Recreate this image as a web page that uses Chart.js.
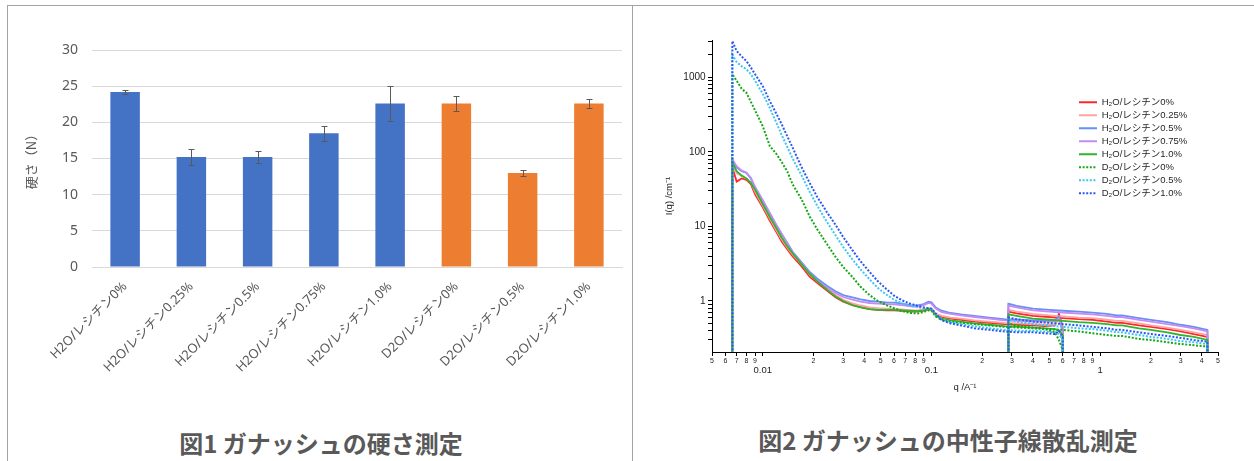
<!DOCTYPE html>
<html>

<head>
    <meta charset="utf-8">
    <title>ガナッシュの硬さ測定・中性子線散乱測定</title>
    <script src="https://cdn.jsdelivr.net/npm/chart.js"></script>
    <style>
        body {
            margin: 0;
            width: 1254px;
            height: 461px;
            overflow: hidden;
            position: relative;
            background: #ffffff;
            font-family: "Noto Sans CJK JP", sans-serif;
        }

        .frame {
            position: absolute;
            left: 7px;
            top: 5px;
            width: 1260px;
            height: 470px;
            border-top: 1px solid #a3a3a3;
            border-left: 1px solid #a3a3a3;
        }

        .divider {
            position: absolute;
            left: 632px;
            top: 5px;
            width: 1px;
            height: 470px;
            background: #a3a3a3;
        }

        #hardBox {
            position: absolute;
            left: 8px;
            top: 6px;
        }

        #sansBox {
            position: absolute;
            left: 633px;
            top: 6px;
        }

        .caption {
            position: absolute;
            transform: translateX(-50%);
            font-size: 24px;
            font-weight: bold;
            line-height: 34px;
            color: #595959;
            white-space: nowrap;
        }
    </style>
</head>

<body>
    <div class="frame"></div>
    <div class="divider"></div>

    <div id="hardBox"><canvas id="hardChart" width="623" height="411"></canvas></div>
    <div class="caption" style="left: 321px; top: 426px;">図1 ガナッシュの硬さ測定</div>

    <div id="sansBox"><canvas id="sansChart" width="621" height="398"></canvas></div>
    <div class="caption" style="left: 948px; top: 423px;">図2 ガナッシュの中性子線散乱測定</div>

    <script>
        // ---- 図1: hardness (N) ----
        const hardLabels = ['H2O/レシチン0%', 'H2O/レシチン0.25%', 'H2O/レシチン0.5%', 'H2O/レシチン0.75%',
            'H2O/レシチン1.0%', 'D2O/レシチン0%', 'D2O/レシチン0.5%', 'D2O/レシチン1.0%'];
        const hardValues = [24.2, 15.2, 15.2, 18.5, 22.6, 22.6, 13.0, 22.6];
        const hardErrors = [0.25, 1.1, 0.87, 1.04, 2.4, 1.0, 0.46, 0.6];

        // ---- 図2: SANS I(q) ----
        // low-q detector segment (first and last points fall below the axis)
        const qLow = [0.0066, 0.0066, 0.007, 0.0075, 0.008, 0.0085, 0.009, 0.01, 0.011, 0.012,
            0.013, 0.014, 0.015, 0.017, 0.019, 0.021, 0.024, 0.027, 0.03, 0.034,
            0.038, 0.043, 0.048, 0.054, 0.06, 0.067, 0.075, 0.083, 0.09, 0.096,
            0.1, 0.106, 0.115, 0.13, 0.15, 0.18, 0.22, 0.27, 0.33, 0.4,
            0.47, 0.54, 0.57, 0.6, 0.6];
        // high-q detector segment
        const qHigh = [0.286, 0.286, 0.32, 0.4, 0.5, 0.6, 0.75, 0.9, 1.1, 1.25, 1.35, 1.7, 2.0, 2.5, 3.0, 3.6, 4.33, 4.33];

        const h2o0Low = [0.1, 62, 40, 44, 42, 37, 27, 18, 12, 8.5, 6.2, 4.9, 4.0, 2.9, 2.1, 1.75, 1.38, 1.12, 0.98, 0.88,
            0.83, 0.78, 0.76, 0.75, 0.75, 0.74, 0.72, 0.72, 0.74, 0.77, 0.76, 0.66, 0.61, 0.58, 0.56, 0.53, 0.51, 0.49, 0.48, 0.47,
            0.46, 0.47, 0.68, 0.45, 0.1];
        const h2o025Low = [0.1, 68, 52, 47, 44, 39, 29, 19, 12.8, 9.0, 6.6, 5.2, 4.25, 3.1, 2.25, 1.85, 1.47, 1.2, 1.04, 0.93,
            0.87, 0.82, 0.8, 0.79, 0.78, 0.77, 0.75, 0.75, 0.77, 0.8, 0.79, 0.68, 0.63, 0.6, 0.58, 0.55, 0.53, 0.51, 0.5, 0.49,
            0.48, 0.48, 0.58, 0.44, 0.1];
        const h2o05Low = [0.1, 80, 62, 55, 52, 44, 33, 22, 15, 10.5, 7.8, 6.0, 4.6, 3.3, 2.45, 2.0, 1.6, 1.35, 1.2, 1.12,
            1.05, 1.0, 0.98, 0.96, 0.95, 0.92, 0.88, 0.87, 0.91, 0.98, 0.96, 0.82, 0.74, 0.69, 0.66, 0.63, 0.6, 0.57, 0.56, 0.55,
            0.55, 0.55, 0.62, 0.4, 0.1];
        const h2o075Low = [0.1, 78, 64, 56, 53, 45, 34, 22.5, 15.2, 10.6, 7.8, 5.9, 4.5, 3.2, 2.35, 1.9, 1.52, 1.28, 1.13, 1.04,
            0.98, 0.94, 0.92, 0.91, 0.9, 0.88, 0.85, 0.84, 0.88, 0.94, 0.92, 0.79, 0.71, 0.67, 0.64, 0.61, 0.58, 0.55, 0.54, 0.53,
            0.53, 0.53, 0.58, 0.38, 0.1];
        const h2o10Low = [0.1, 73, 55, 48, 44, 38, 31, 20, 13.5, 9.6, 7.0, 5.4, 4.4, 3.1, 2.3, 1.85, 1.42, 1.15, 1.0, 0.88,
            0.82, 0.78, 0.76, 0.76, 0.76, 0.75, 0.74, 0.73, 0.75, 0.78, 0.77, 0.64, 0.58, 0.55, 0.53, 0.5, 0.48, 0.46, 0.45, 0.44,
            0.43, 0.42, 0.4, 0.35, 0.1];
        const d2o0Low = [0.1, 1100, 900, 700, 620, 470, 360, 220, 120, 95, 72, 54, 37, 23, 13.5, 9.2, 5.8, 3.9, 2.85, 2.1,
            1.55, 1.2, 1.0, 0.88, 0.8, 0.73, 0.69, 0.68, 0.71, 0.75, 0.74, 0.62, 0.56, 0.53, 0.51, 0.49, 0.47, 0.45, 0.44, 0.43,
            0.42, 0.38, 0.3, 0.22, 0.1];
        const d2o05Low = [0.1, 2000, 1600, 1400, 1280, 1100, 900, 600, 390, 250, 165, 115, 82, 48, 29, 19, 11.5, 7.6, 5.3, 3.6,
            2.65, 1.95, 1.5, 1.22, 1.04, 0.93, 0.86, 0.83, 0.8, 0.8, 0.78, 0.66, 0.57, 0.52, 0.49, 0.46, 0.43, 0.41, 0.4, 0.4,
            0.39, 0.38, 0.36, 0.3, 0.1];
        const d2o10Low = [0.1, 3050, 2250, 1900, 1650, 1350, 1100, 760, 480, 330, 230, 160, 115, 62, 38, 25, 15.5, 10.5, 7.2, 4.8,
            3.4, 2.45, 1.85, 1.45, 1.18, 1.02, 0.92, 0.86, 0.82, 0.8, 0.79, 0.68, 0.55, 0.5, 0.47, 0.43, 0.41, 0.39, 0.38, 0.38,
            0.37, 0.36, 0.4, 0.33, 0.1];

        const h2o0High = [0.1, 0.72, 0.68, 0.63, 0.61, 0.59, 0.57, 0.56, 0.53, 0.51, 0.51, 0.47, 0.45, 0.42, 0.39, 0.36, 0.33, 0.1];
        const h2o025High = [0.1, 0.76, 0.72, 0.67, 0.64, 0.62, 0.60, 0.59, 0.56, 0.54, 0.54, 0.50, 0.47, 0.44, 0.41, 0.38, 0.35, 0.1];
        const h2o05High = [0.1, 0.92, 0.86, 0.79, 0.76, 0.74, 0.72, 0.70, 0.67, 0.64, 0.64, 0.59, 0.56, 0.52, 0.48, 0.45, 0.41, 0.1];
        const h2o075High = [0.1, 0.87, 0.82, 0.75, 0.72, 0.70, 0.68, 0.66, 0.63, 0.61, 0.61, 0.56, 0.53, 0.49, 0.46, 0.43, 0.39, 0.1];
        const h2o10High = [0.1, 0.66, 0.63, 0.58, 0.56, 0.54, 0.52, 0.51, 0.49, 0.47, 0.47, 0.43, 0.41, 0.38, 0.35, 0.33, 0.30, 0.1];
        const d2o0High = [0.1, 0.50, 0.47, 0.44, 0.42, 0.41, 0.39, 0.37, 0.35, 0.34, 0.34, 0.31, 0.30, 0.28, 0.265, 0.255, 0.245, 0.1];
        const d2o05High = [0.1, 0.56, 0.53, 0.49, 0.47, 0.45, 0.43, 0.42, 0.40, 0.38, 0.38, 0.35, 0.33, 0.31, 0.29, 0.28, 0.265, 0.1];
        const d2o10High = [0.1, 0.60, 0.57, 0.53, 0.51, 0.49, 0.47, 0.45, 0.43, 0.41, 0.41, 0.38, 0.36, 0.34, 0.32, 0.30, 0.285, 0.1];

        const sansLabels = ['H₂O/レシチン0%', 'H₂O/レシチン0.25%', 'H₂O/レシチン0.5%', 'H₂O/レシチン0.75%',
            'H₂O/レシチン1.0%', 'D₂O/レシチン0%', 'D₂O/レシチン0.5%', 'D₂O/レシチン1.0%'];
        const sansLow = [h2o0Low, h2o025Low, h2o05Low, h2o075Low, h2o10Low, d2o0Low, d2o05Low, d2o10Low];
        const sansHigh = [h2o0High, h2o025High, h2o05High, h2o075High, h2o10High, d2o0High, d2o05High, d2o10High];

        // axis ticks
        const qTickValues = [0.005, 0.006, 0.007, 0.008, 0.009, 0.01, 0.02, 0.03, 0.04, 0.05, 0.06, 0.07, 0.08, 0.09,
            0.1, 0.2, 0.3, 0.4, 0.5, 0.6, 0.7, 0.8, 0.9, 1, 2, 3, 4, 5];
        const qMinorText = ['5', '6', '7', '8', '9', '', '2', '3', '4', '5', '6', '7', '8', '9',
            '', '2', '3', '4', '5', '6', '7', '8', '9', '', '2', '3', '4', '5'];
        const qMajorValues = [0.01, 0.1, 1];
        const qMajorText = ['0.01', '0.1', '1'];
        const iTickValues = [0.3, 0.4, 0.5, 0.6, 0.7, 0.8, 0.9, 1, 2, 3, 4, 5, 6, 7, 8, 9, 10, 20, 30, 40, 50, 60, 70, 80, 90,
            100, 200, 300, 400, 500, 600, 700, 800, 900, 1000, 2000, 3000];
        const iTickText = iTickValues.map(v => [1, 10, 100, 1000].includes(v) ? String(v) : '');

        // line styles, same order as sansLabels
        const sansColors = ['#ff2626', '#ffa3a3', '#6a8ef4', '#c48cf2', '#2fb52f', '#15a815', '#3cc6f4', '#2c58f2'];
        const sansDotted = [false, false, false, false, false, true, true, true];

        // ---- chart 1 ----
        const errorBars = {
            id: 'errorBars',
            afterDatasetsDraw(chart) {
                const { ctx, scales: { y } } = chart;
                const meta = chart.getDatasetMeta(0);
                ctx.save();
                ctx.strokeStyle = '#5a5a5a';
                ctx.lineWidth = 1;
                meta.data.forEach((bar, i) => {
                    const x = Math.round(bar.x) + 0.5;
                    const top = Math.round(y.getPixelForValue(hardValues[i] + hardErrors[i])) + 0.5;
                    const bottom = Math.round(y.getPixelForValue(hardValues[i] - hardErrors[i])) + 0.5;
                    ctx.beginPath();
                    ctx.moveTo(x, top);
                    ctx.lineTo(x, bottom);
                    ctx.moveTo(x - 3, top);
                    ctx.lineTo(x + 3, top);
                    ctx.moveTo(x - 3, bottom);
                    ctx.lineTo(x + 3, bottom);
                    ctx.stroke();
                });
                ctx.restore();
            }
        };

        new Chart(document.getElementById('hardChart'), {
            type: 'bar',
            data: {
                labels: hardLabels,
                datasets: [{
                    data: hardValues,
                    backgroundColor: hardLabels.map(l => l.startsWith('H2O') ? '#4472c4' : '#ed7d31'),
                    barPercentage: 0.445,
                    categoryPercentage: 1
                }]
            },
            options: {
                responsive: false,
                animation: false,
                layout: { padding: { top: 44, right: 9, left: 0, bottom: 0 } },
                plugins: { legend: { display: false }, tooltip: { enabled: false } },
                scales: {
                    x: {
                        grid: { display: false },
                        border: { display: true, color: '#d9d9d9' },
                        ticks: {
                            color: '#595959',
                            font: { family: "'Noto Sans', 'Noto Sans CJK JP'", size: 13 },
                            minRotation: 45,
                            maxRotation: 45,
                            autoSkip: false,
                            padding: 4
                        },
                        afterFit: s => { s.height = 150; }
                    },
                    y: {
                        min: 0,
                        max: 30,
                        ticks: {
                            stepSize: 5,
                            color: '#595959',
                            font: { family: "'Noto Sans'", size: 14 },
                            padding: 14
                        },
                        grid: { color: '#d9d9d9', drawTicks: false },
                        border: { display: false },
                        title: {
                            display: true,
                            text: '硬さ（N）',
                            color: '#595959',
                            font: { family: "'Noto Sans CJK JP'", size: 13 },
                            padding: { top: 15 }
                        },
                        afterFit: s => { s.width = 84; }
                    }
                }
            },
            plugins: [errorBars]
        });

        // ---- chart 2 ----
        // put the legend box at a fixed spot inside the plot
        const legendPlace = {
            id: 'legendPlace',
            afterLayout(chart) {
                const lg = chart.legend;
                lg.left = 442.5;
                lg.top = 88;
                lg.width = 170;
                lg.height = 200;
                lg.right = lg.left + lg.width;
                lg.bottom = lg.top + lg.height;
            }
        };

        function seriesPoints(low, high) {
            const pts = qLow.map((q, i) => ({ x: q, y: low[i] }));
            pts.push({ x: qHigh[0], y: null });
            return pts.concat(qHigh.map((q, i) => ({ x: q, y: high[i] })));
        }

        const axisFont = "'Liberation Sans', 'Noto Sans CJK JP'";

        new Chart(document.getElementById('sansChart'), {
            type: 'line',
            data: {
                datasets: sansLabels.map((label, i) => ({
                    label: label,
                    data: seriesPoints(sansLow[i], sansHigh[i]),
                    borderColor: sansColors[i],
                    backgroundColor: sansColors[i],
                    borderWidth: sansDotted[i] ? 2 : 1.8,
                    borderDash: sansDotted[i] ? [2, 1.6] : [],
                    pointRadius: 0,
                    tension: 0,
                    fill: false,
                    order: sansLabels.length - i   // later series drawn on top
                }))
            },
            options: {
                responsive: false,
                animation: false,
                layout: { padding: { top: 34, right: 36, left: 0, bottom: 0 } },
                plugins: {
                    tooltip: { enabled: false },
                    legend: {
                        position: 'chartArea',
                        align: 'start',
                        labels: {
                            usePointStyle: true,
                            pointStyleWidth: 18,
                            padding: 3.5,
                            font: { family: axisFont, size: 9.5 },
                            generateLabels: chart => chart.data.datasets.map((ds, i) => ({
                                text: ds.label,
                                strokeStyle: ds.borderColor,
                                fillStyle: ds.borderColor,
                                lineDash: ds.borderDash,
                                lineWidth: 2,
                                pointStyle: 'line',
                                fontColor: '#262626',
                                hidden: false,
                                datasetIndex: i
                            }))
                        }
                    }
                },
                scales: {
                    x: {
                        type: 'logarithmic',
                        min: 0.005,
                        max: 5,
                        weight: 0,
                        afterBuildTicks: s => { s.ticks = qTickValues.map(v => ({ value: v })); },
                        ticks: {
                            autoSkip: false,
                            minRotation: 0,
                            maxRotation: 0,
                            padding: 1,
                            color: '#222',
                            font: { family: axisFont, size: 7 },
                            callback: (v, i) => qMinorText[i]
                        },
                        grid: { drawOnChartArea: false, color: '#000', tickLength: 4 },
                        border: { color: '#000' },
                        afterFit: s => { s.height = 12; }
                    },
                    x2: {
                        type: 'logarithmic',
                        position: 'bottom',
                        min: 0.005,
                        max: 5,
                        weight: 1,
                        afterBuildTicks: s => { s.ticks = qMajorValues.map(v => ({ value: v })); },
                        ticks: {
                            autoSkip: false,
                            minRotation: 0,
                            maxRotation: 0,
                            padding: 0.5,
                            color: '#222',
                            font: { family: axisFont, size: 9.5 },
                            callback: (v, i) => qMajorText[i]
                        },
                        grid: { display: false, drawTicks: false },
                        border: { display: false },
                        title: {
                            display: true,
                            text: 'q /A⁻¹',
                            color: '#222',
                            font: { family: axisFont, size: 9.5 },
                            padding: { top: 0, bottom: 11 }
                        },
                        afterFit: s => { s.height = 40; }
                    },
                    y: {
                        type: 'logarithmic',
                        min: 0.207,
                        max: 3160,
                        afterBuildTicks: s => { s.ticks = iTickValues.map(v => ({ value: v })); },
                        ticks: {
                            autoSkip: false,
                            padding: 2.4,
                            color: '#222',
                            font: { family: axisFont, size: 10 },
                            callback: (v, i) => iTickText[i]
                        },
                        grid: { drawOnChartArea: false, color: '#000', tickLength: 4 },
                        border: { color: '#000' },
                        title: {
                            display: true,
                            text: 'I(q) /cm⁻¹',
                            color: '#222',
                            font: { family: axisFont, size: 9.5 },
                            padding: { top: 31 }
                        },
                        afterFit: s => { s.width = 79; }
                    }
                }
            },
            plugins: [legendPlace]
        });
    </script>
</body>

</html>
